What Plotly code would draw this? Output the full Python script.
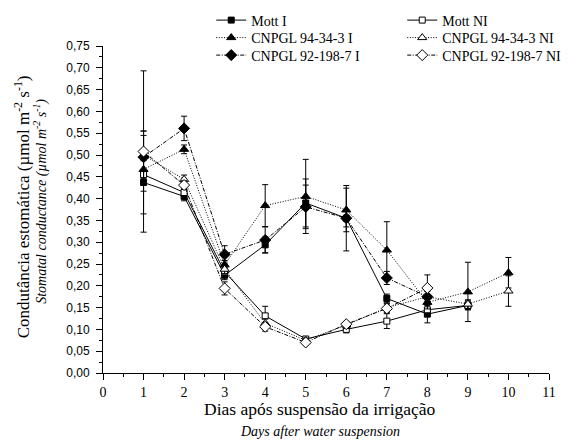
import plotly.graph_objects as go

days = [1, 2, 3, 4, 5, 6, 7, 8, 9, 10]

mott_i = [0.437, 0.405, 0.224, 0.294, 0.390, 0.355, 0.171, 0.135, 0.155]
mott_i_err = [0.020, 0.010, 0.010, 0.018, 0.055, 0.075, 0.010, 0.020, 0.010]

mott_ni = [0.455, 0.414, 0.232, 0.131, 0.078, 0.100, 0.119, 0.145, 0.155]
mott_ni_err = [0.090, 0.010, 0.010, 0.022, 0.005, 0.008, 0.017, 0.012, 0.010]

c94_i = [0.467, 0.513, 0.248, 0.384, 0.405, 0.374, 0.282, 0.162, 0.186, 0.230]
c94_i_err = [0.020, 0.010, 0.010, 0.048, 0.085, 0.050, 0.065, 0.015, 0.068, 0.035]

c94_ni = [0.500, 0.444, 0.238, 0.114, 0.075, 0.110, 0.150, 0.175, 0.158, 0.188]
c94_ni_err = [0.055, 0.010, 0.010, 0.010, 0.005, 0.008, 0.010, 0.015, 0.010, 0.035]

c92_i = [0.495, 0.561, 0.272, 0.305, 0.381, 0.355, 0.218, 0.175]
c92_i_err = [0.060, 0.028, 0.020, 0.030, 0.050, 0.020, 0.015, 0.012]

c92_ni = [0.508, 0.431, 0.194, 0.106, 0.070, 0.112, 0.148, 0.195]
c92_ni_err = [0.185, 0.010, 0.015, 0.010, 0.005, 0.006, 0.010, 0.030]

x_ticks = list(range(0, 12))
y_ticks = [round(0.05 * i, 2) for i in range(16)]

SERIF = "Liberation Serif"
SANS = "Liberation Sans"

series = [
    ("Mott I", mott_i, mott_i_err, "square", "black", "solid", "legend"),
    ("Mott NI", mott_ni, mott_ni_err, "square", "white", "solid", "legend"),
    ("CNPGL 94-34-3 I", c94_i, c94_i_err, "triangle-up", "black", "1px,1.6px", "legend2"),
    ("CNPGL 94-34-3 NI", c94_ni, c94_ni_err, "triangle-up", "white", "1px,1.6px", "legend2"),
    ("CNPGL 92-198-7 I", c92_i, c92_i_err, "diamond", "black", "4px,1.5px,1px,1.5px", "legend3"),
    ("CNPGL 92-198-7 NI", c92_ni, c92_ni_err, "diamond", "white", "4px,1.5px,1px,1.5px", "legend3"),
]

fig = go.Figure()
for name, vals, errs, sym, fill, dash, leg in series:
    size = {"square": 6, "triangle-up": 8, "diamond": 8.5}[sym]
    fig.add_trace(go.Scatter(
        x=days[:len(vals)], y=vals, name=name, mode="lines+markers",
        line=dict(color="black", width=1, dash=dash),
        marker=dict(symbol=sym, size=size, color=fill,
                    line=dict(color="black", width=1)),
        error_y=dict(type="data", array=errs, color="black",
                     thickness=1, width=3),
        legend=leg,
    ))

def leg_cfg(ypx):
    return dict(orientation="h", x=(211 - 102.7) / 446.3, xanchor="left",
                y=(373 - ypx) / 327, yanchor="middle",
                entrywidth=146, entrywidthmode="pixels",
                font=dict(family=SERIF, size=14, color="black"),
                bgcolor="rgba(0,0,0,0)", borderwidth=0, itemwidth=30)

fig.update_layout(
    width=578, height=442,
    margin=dict(l=102.7, r=29.3, t=46, b=69, autoexpand=False),
    paper_bgcolor="white", plot_bgcolor="white",
    separators=",.",
    showlegend=True,
    legend=leg_cfg(20.5),
    legend2=leg_cfg(38),
    legend3=leg_cfg(55.5),
    xaxis=dict(range=[0, 11], tickvals=x_ticks, ticktext=[str(v) for v in x_ticks],
               showgrid=False, zeroline=False, showline=True, linecolor="black",
               linewidth=1, ticks="outside", ticklen=6, tickcolor="black",
               tickfont=dict(family=SERIF, size=14, color="black"),
               minor=dict(dtick=0.5, ticks="outside", ticklen=3, tickcolor="black")),
    yaxis=dict(range=[0, 0.75], tickvals=y_ticks, tickformat=".2f",
               showgrid=False, zeroline=False, showline=True, linecolor="black",
               linewidth=1, ticks="outside", ticklen=6, tickcolor="black",
               ticklabelstandoff=4,
               tickfont=dict(family=SANS, size=12, color="black"),
               minor=dict(dtick=0.025, ticks="outside", ticklen=3, tickcolor="black")),
    annotations=[
        dict(text="Dias após suspensão da irrigação", xref="paper", yref="paper",
             x=0.487, y=(373 - 409) / 327, xanchor="center", yanchor="middle",
             showarrow=False, font=dict(family=SERIF, size=17.5, color="black")),
        dict(text="<i>Days after water suspension</i>", xref="paper", yref="paper",
             x=0.487, y=(373 - 432) / 327, xanchor="center", yanchor="middle",
             showarrow=False, font=dict(family=SERIF, size=14, color="black")),
        dict(text="Condutância estomática (µmol m<sup>-2</sup> s<sup>-1</sup>)",
             xref="paper", yref="paper", x=(22 - 102.7) / 446.3, y=(373 - 207) / 327,
             xanchor="center", yanchor="middle", textangle=-90, showarrow=False,
             font=dict(family=SERIF, size=17, color="black")),
        dict(text="<i>Stomatal conductance (µmol m<sup>-2</sup> s<sup>-1</sup>)</i>",
             xref="paper", yref="paper", x=(40 - 102.7) / 446.3, y=(373 - 201.5) / 327,
             xanchor="center", yanchor="middle", textangle=-90, showarrow=False,
             font=dict(family=SERIF, size=14, color="black")),
    ],
)

fig.write_html("out.html")
